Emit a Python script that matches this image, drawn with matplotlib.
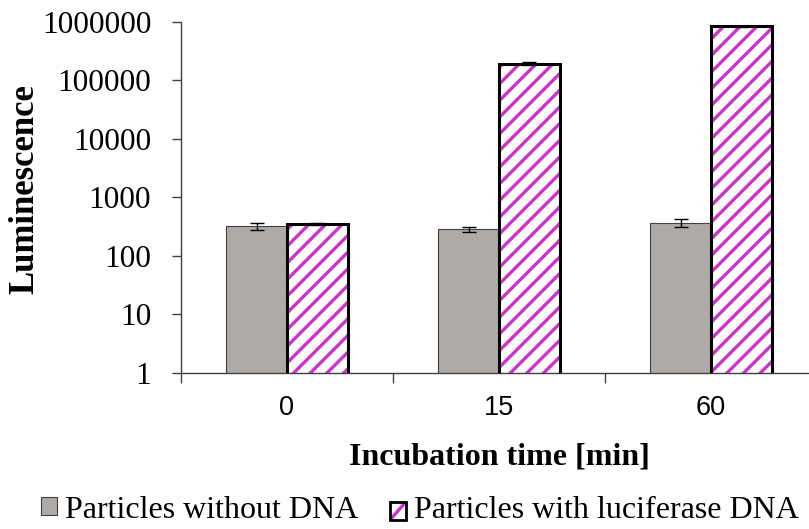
import numpy as np
import matplotlib
matplotlib.use('Agg')
import matplotlib.pyplot as plt
from matplotlib.patches import Patch, Rectangle
from matplotlib.lines import Line2D
from matplotlib.legend_handler import HandlerBase

# data
times = ['0', '15', '60']
without_dna = [322, 284, 369]
without_err = [45, 30, 60]
with_dna = [348, 194500, 845000]
with_err = [15, 12000, 20000]

grey = '#aeaaa8'
magenta = '#cc33cc'
serif = 'Liberation Serif'

plt.rcParams['hatch.linewidth'] = 2.4

fig = plt.figure(figsize=(8.09, 5.29), dpi=100)
ax = fig.add_axes([181/809, 1 - 372.7/529, (817 - 181)/809, (372.7 - 22)/529])

x = np.arange(len(times))
w = 0.287
ebar = dict(elinewidth=1, capthick=1, ecolor='black')
ax.bar(x - w/2, without_dna, w, color=grey, edgecolor='#404040', linewidth=0.8,
       yerr=without_err, capsize=5, error_kw=ebar, zorder=2)
# hatch fill in magenta, then black outline on top
ax.bar(x + w/2, with_dna, w, color='white', edgecolor=magenta, linewidth=0,
       hatch='//', zorder=2)
ax.bar(x + w/2, with_dna, w, fill=False, edgecolor='black', linewidth=2.2,
       yerr=with_err, capsize=5, error_kw=ebar, zorder=3)

ax.set_yscale('log')
ax.set_ylim(1, 1e6)
ax.set_xlim(-0.5, 2.5)
yt = [1, 10, 100, 1000, 10000, 100000, 1000000]
ax.set_yticks(yt)
ax.set_yticklabels([str(v) for v in yt], fontfamily=serif, fontsize=22.5)
ax.yaxis.set_minor_locator(matplotlib.ticker.NullLocator())
ax.tick_params(axis='y', length=6.5, width=1, color='#404040', pad=15)

# category boundaries as ticks, labels at centers
ax.set_xticks([-0.5, 0.5, 1.5, 2.5])
ax.set_xticklabels([])
ax.tick_params(axis='x', which='major', length=7.5, width=1, color='#404040', direction='out')
ax.set_xticks(x, minor=True)
ax.set_xticklabels(times, minor=True, fontfamily='Liberation Sans', fontsize=19.5)
ax.tick_params(axis='x', which='minor', length=0, pad=16)

for s in ['top', 'right']:
    ax.spines[s].set_visible(False)
for s in ['left', 'bottom']:
    ax.spines[s].set_color('#404040')
    ax.spines[s].set_linewidth(1)

fig.text(25/809, 1 - 189/529, 'Luminescence', rotation=90, ha='center', va='center',
         fontfamily=serif, fontweight='bold', fontsize=25)
fig.text(499/809, 1 - 457/529, 'Incubation time [min]', ha='center', va='center',
         fontfamily=serif, fontweight='bold', fontsize=23)


class HatchHandler(HandlerBase):
    def create_artists(self, legend, orig, xd, yd, width, height, fontsize, trans):
        back = Rectangle((xd, yd), width, height, facecolor='white', edgecolor='none',
                         transform=trans)
        stripe = Line2D([xd + 0.1 * width, xd + 0.9 * width],
                        [yd + 0.1 * height, yd + 0.9 * height],
                        color=magenta, linewidth=2.4, transform=trans)
        edge = Rectangle((xd, yd), width, height, fill=False, edgecolor='black',
                         linewidth=2, transform=trans)
        return [back, stripe, edge]


handles = [Patch(facecolor=grey, edgecolor='#404040', linewidth=0.8),
           Patch(facecolor='white')]
fig.legend(handles, ['Particles without DNA', 'Particles with luciferase DNA'],
           loc='center', bbox_to_anchor=(420/809, 1 - 510/529), ncol=2, frameon=False,
           prop={'family': serif, 'size': 23}, handlelength=0.5,
           handleheight=0.5, handletextpad=0.25, columnspacing=1.0,
           handler_map={handles[1]: HatchHandler()})

fig.savefig('out.png', dpi=100)
